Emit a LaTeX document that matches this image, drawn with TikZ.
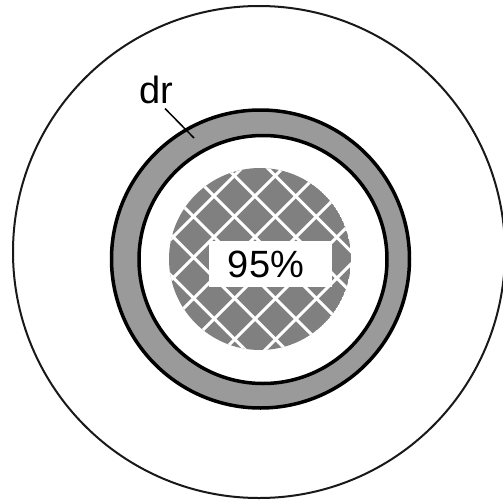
\documentclass[tikz,border=0pt]{standalone}
\usepackage{fontspec}
\setmainfont{Liberation Sans}
\definecolor{ringgray}{HTML}{9A9A9A}
\definecolor{diskgray}{HTML}{808080}
\tikzset{
  outerline/.style={draw=black!90, line width=2pt},
  ringline/.style={draw=black, line width=3.5pt},
  hatchline/.style={draw=white, line width=3pt},
  bigtext/.style={font=\fontsize{38}{40}\selectfont, inner sep=0pt},
  leader/.style={draw=black, line width=1.5pt},
}
\begin{document}
\begin{tikzpicture}[x=1pt,y=-1pt]
\useasboundingbox (0,0) rectangle (503,504);
% outer circle
\draw[outerline] (259,252) circle[radius=246];
% ring
\fill[ringgray, even odd rule] (260.5,259) circle[radius=149] (263,259.5) circle[radius=124];
\draw[ringline] (260.5,259) circle[radius=149];
\draw[ringline] (263,259.5) circle[radius=124];
% hatched disk
\begin{scope}
  \clip (260,259) circle[radius=91];
  \fill[diskgray] (260,259) circle[radius=91];
  \foreach \c in {-145.3,-104.5,-63.7,-22.9,17.9,58.7,99.5,140.3}
    \draw[hatchline] ({\c+140},140) -- ({\c+380},380);
  \foreach \c in {369,410,451,492,533,574,615,656}
    \draw[hatchline] ({\c-140},140) -- ({\c-380},380);
\end{scope}
% label box
\fill[white] (208.5,240.5) rectangle (331.5,286.5);
\node[bigtext, anchor=base] (pct) at (266,277) {95\%};
% dr label and leader
\node[bigtext, anchor=base] (dr) at (156,103.5) {dr};
\coordinate (leadA) at (165,108.5);
\coordinate (leadB) at (194,138);
\draw[leader] (leadA) -- (leadB);
\end{tikzpicture}
\end{document}
